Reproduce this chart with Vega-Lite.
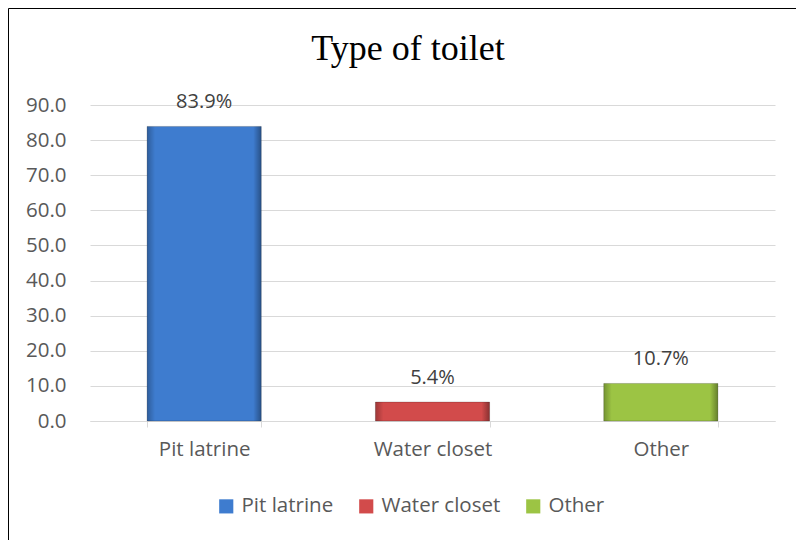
{
  "$schema": "https://vega.github.io/schema/vega-lite/v6.json",
  "width": 790,
  "height": 534,
  "autosize": "none",
  "padding": {"left": 8, "top": 8, "right": -2, "bottom": -2},
  "background": "white",
  "config": {"view": {"stroke": "black", "strokeWidth": 1}, "font": "Open Sans"},
  "title": {"text": "Type of toilet", "font": "Liberation Serif", "fontSize": 36, "fontWeight": "normal", "color": "black", "anchor": "middle", "frame": "group", "offset": -88, "baseline": "alphabetic", "dx": 5},
  "data": {"values": [
    {"type": "Pit latrine", "value": 83.9, "label": "83.9%"},
    {"type": "Water closet", "value": 5.4, "label": "5.4%"},
    {"type": "Other", "value": 10.7, "label": "10.7%"}
  ]},
  "encoding": {
    "x": {"field": "type", "type": "nominal", "sort": ["Pit latrine", "Water closet", "Other"],
      "scale": {"range": [82, 767], "paddingInner": 0.5, "paddingOuter": 0.25},
      "axis": {"title": null, "orient": "bottom", "offset": -121, "labelFontSize": 20.5, "labelColor": "#595959", "labelPadding": 12, "tickBand": "extent", "tickSize": 6, "tickColor": "#d9d9d9", "domainColor": "#d9d9d9", "grid": false, "labelAngle": 0}},
    "y": {"field": "value", "type": "quantitative",
      "scale": {"domain": [0, 90], "range": [413, 97], "nice": false},
      "axis": {"title": null, "offset": -82, "values": [0, 10, 20, 30, 40, 50, 60, 70, 80, 90], "format": ".1f", "labelFontSize": 20.5, "labelColor": "#595959", "labelPadding": 24, "ticks": false, "domain": false, "grid": true, "gridColor": "#d9d9d9"}}
  },
  "layer": [
    {"mark": {"type": "bar", "stroke": "#00000033", "strokeWidth": 1},
     "encoding": {"color": {"field": "type", "type": "nominal",
        "scale": {"domain": ["Pit latrine", "Water closet", "Other"], "range": ["#3e7ccf", "#d24b4b", "#9cc444"]},
        "legend": {"orient": "none", "legendX": 208, "legendY": 488, "direction": "horizontal", "title": null, "labelFontSize": 20.5, "labelColor": "#595959", "symbolType": "square", "symbolSize": 200, "columnPadding": 22, "labelOffset": 5, "symbolStrokeWidth": 0, "padding": 0}}}},
    {"mark": {"type": "bar", "color": {"gradient": "linear", "x1": 0, "x2": 1, "y1": 0, "y2": 0, "stops": [
        {"offset": 0, "color": "rgba(0,0,0,0.25)"}, {"offset": 0.07, "color": "rgba(0,0,0,0)"},
        {"offset": 0.93, "color": "rgba(0,0,0,0)"}, {"offset": 1, "color": "rgba(0,0,0,0.35)"}]}},
     "encoding": {}},
    {"mark": {"type": "text", "dy": -18, "baseline": "alphabetic", "fontSize": 20, "color": "#404040"},
     "encoding": {"text": {"field": "label"}}}
  ]
}
